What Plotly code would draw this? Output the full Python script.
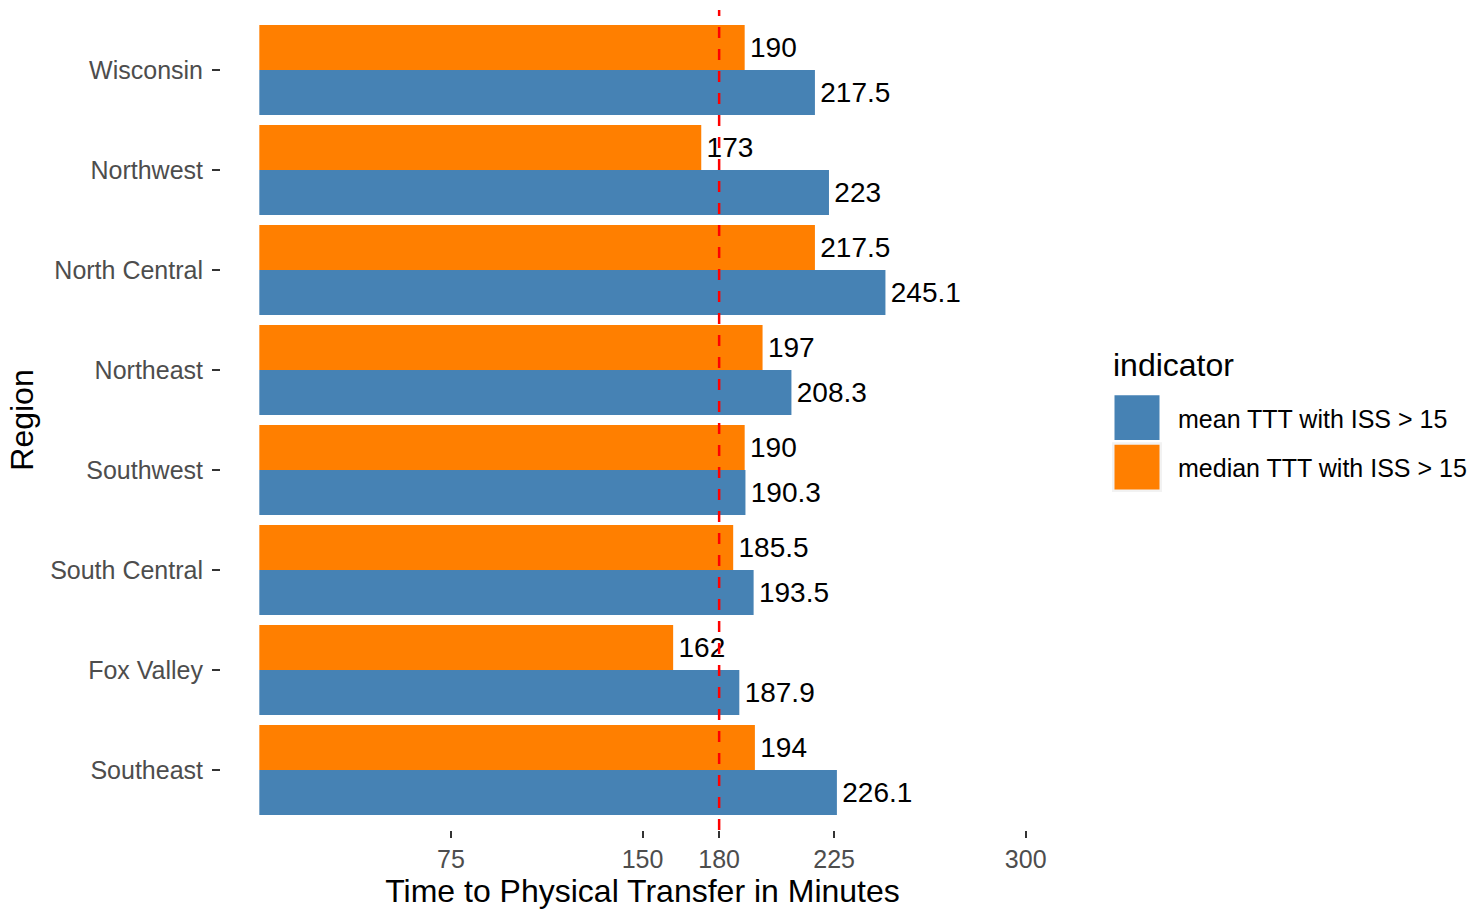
import plotly.graph_objects as go

regions = ["Wisconsin", "Northwest", "North Central", "Northeast",
           "Southwest", "South Central", "Fox Valley", "Southeast"]
mean_ttt = [217.5, 223, 245.1, 208.3, 190.3, 193.5, 187.9, 226.1]
median_ttt = [190, 173, 217.5, 197, 190, 185.5, 162, 194]
mean_labels = ["217.5", "223", "245.1", "208.3", "190.3", "193.5", "187.9", "226.1"]
median_labels = ["190", "173", "217.5", "197", "190", "185.5", "162", "194"]
x_ticks = [75, 150, 180, 225, 300]
ref_line = 180
series_names = ["mean TTT with ISS > 15", "median TTT with ISS > 15"]
series_colors = ["#4682B4", "#FF7F00"]

FONT = "Liberation Sans, Arial, sans-serif"
W, H = 1475, 909
ML, MR, MT, MB = 221, 411, 10, 74
PW, PH = W - ML - MR, H - MT - MB


def px(xp):
    return (xp - ML) / PW


def py(yp):
    return (H - MB - yp) / PH


fig = go.Figure()
for vals, labels, name, color in [(mean_ttt, mean_labels, series_names[0], series_colors[0]),
                                  (median_ttt, median_labels, series_names[1], series_colors[1])]:
    fig.add_trace(go.Bar(
        y=regions, x=vals, orientation="h", name=name,
        marker=dict(color=color, line=dict(width=0)),
        text=["\u200a" + t for t in labels], textposition="outside", cliponaxis=False,
        textfont=dict(family=FONT, size=28, color="black"),
        showlegend=False, hoverinfo="x+y"))

fig.add_vline(x=ref_line, line=dict(color="red", width=2.5, dash="11px,11px"), layer="above")

# legend drawn like ggplot's (large keys)
shapes = []
annotations = [dict(text="indicator", xref="paper", yref="paper", x=px(1111), y=py(367),
                    xanchor="left", yanchor="middle", showarrow=False,
                    font=dict(family=FONT, size=32, color="black"))]
for i, (name, color) in enumerate(zip(series_names, series_colors)):
    top = 395 + 50 * i
    shapes.append(dict(type="rect", xref="paper", yref="paper", layer="above",
                       x0=px(1112), x1=px(1162), y0=py(top), y1=py(top + 50),
                       fillcolor="#F2F2F2", line=dict(width=0)))
    shapes.append(dict(type="rect", xref="paper", yref="paper", layer="above",
                       x0=px(1114.5), x1=px(1159.5), y0=py(top + 2.5), y1=py(top + 47.5),
                       fillcolor=color, line=dict(width=0)))
    annotations.append(dict(text=name, xref="paper", yref="paper", x=px(1176), y=py(top + 26),
                            xanchor="left", yanchor="middle", showarrow=False,
                            font=dict(family=FONT, size=25, color="black")))

fig.update_layout(
    width=W, height=H,
    margin=dict(l=ML, r=MR, t=MT, b=MB),
    paper_bgcolor="white", plot_bgcolor="white",
    barmode="group", bargap=0.1, bargroupgap=0,
    font=dict(family=FONT, color="black"),
    showlegend=False,
    shapes=shapes, annotations=annotations,
    xaxis=dict(
        range=[-15, 315], tickvals=x_ticks, ticktext=[str(v) for v in x_ticks],
        showgrid=False, zeroline=False, showline=False,
        ticks="outside", ticklen=7, tickwidth=2, tickcolor="#333333",
        tickfont=dict(size=25, color="#4D4D4D"),
        title=dict(text="Time to Physical Transfer in Minutes",
                   font=dict(size=32, color="black"), standoff=4),
    ),
    yaxis=dict(
        categoryorder="array", categoryarray=regions[::-1],
        range=[-0.6, 7.6],
        showgrid=False, zeroline=False, showline=False,
        ticks="outside", ticklen=8, tickwidth=2, tickcolor="#333333",
        ticklabelstandoff=4,
        tickfont=dict(size=25, color="#4D4D4D"),
        title=dict(text="Region", font=dict(size=32, color="black"), standoff=6),
    ),
)

fig.write_html("out.html", config={"displayModeBar": False},
               post_script="document.body.style.margin='0';document.body.style.overflow='hidden';")
